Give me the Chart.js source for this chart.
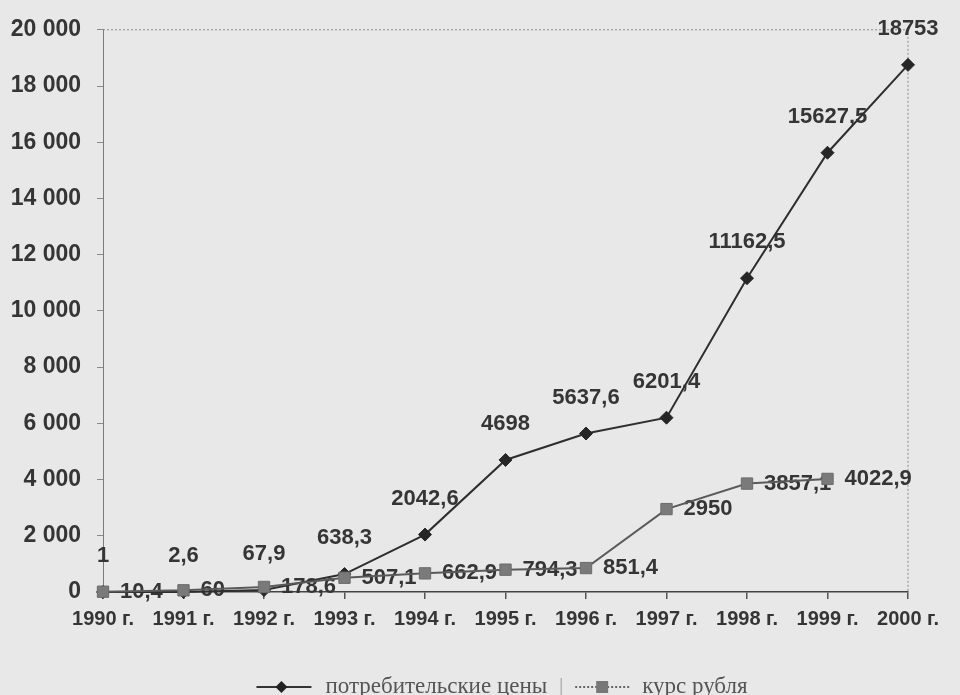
<!DOCTYPE html>
<html>
<head>
<meta charset="utf-8">
<script src="https://cdn.jsdelivr.net/npm/chart.js@4"></script>
<style>
  body { margin: 0; background: #e8e8e8; }
  canvas { display: block; }
</style>
</head>
<body>
<canvas id="myChart" width="960" height="695"></canvas>
<script>
const years = ["1990 г.", "1991 г.", "1992 г.", "1993 г.", "1994 г.", "1995 г.",
  "1996 г.", "1997 г.", "1998 г.", "1999 г.", "2000 г."];
const prices = [1, 2.6, 67.9, 638.3, 2042.6, 4698, 5637.6, 6201.4, 11162.5, 15627.5, 18753];
const ruble = [10.4, 60, 178.6, 507.1, 662.9, 794.3, 851.4, 2950, 3857.1, 4022.9, null];
const seriesNames = ["потребительские цены", "курс рубля"];
const yMax = 20000;
const yStep = 2000;

const textColor = "#353535";
const fmt = (v) => String(v).replace(".", ",");
const thousands = (v) => String(v).replace(/\B(?=(\d{3})+(?!\d))/g, " ");

// labels drawn under the lines, the way the scan shows them crossed out
const valueLabels = {
  id: "valueLabels",
  beforeDatasetsDraw(chart) {
    const ctx = chart.ctx;
    const area = chart.chartArea;
    ctx.save();
    // dotted frame on top and right
    ctx.strokeStyle = "#8a8a8a";
    ctx.lineWidth = 1;
    ctx.setLineDash([2, 2]);
    ctx.beginPath();
    ctx.moveTo(area.left, area.top);
    ctx.lineTo(area.right, area.top);
    ctx.lineTo(area.right, area.bottom);
    ctx.stroke();
    ctx.setLineDash([]);

    ctx.font = "bold 22px 'Liberation Sans', Arial, sans-serif";
    ctx.fillStyle = textColor;
    ctx.textBaseline = "middle";
    chart.getDatasetMeta(0).data.forEach((pt, i) => {
      ctx.textAlign = "center";
      ctx.fillText(fmt(prices[i]), pt.x, pt.y - 36);
    });
    chart.getDatasetMeta(1).data.forEach((pt, i) => {
      if (ruble[i] == null) return;
      ctx.textAlign = "left";
      ctx.fillText(fmt(ruble[i]), pt.x + 17, pt.y);
    });
    ctx.restore();
  },
  afterDraw(chart) {
    // legend: line with marker, like the printed one
    const ctx = chart.ctx;
    ctx.save();
    ctx.font = "23px 'Liberation Serif', 'Times New Roman', serif";
    ctx.textBaseline = "middle";
    ctx.fillStyle = "#555";
    const y = 687;
    const w1 = ctx.measureText(seriesNames[0]).width;
    const w2 = ctx.measureText(seriesNames[1]).width;
    const total = 55 + 14 + w1 + 28 + 55 + 12 + w2;
    let x = 502 - total / 2;

    ctx.strokeStyle = "#333";
    ctx.lineWidth = 2;
    ctx.beginPath();
    ctx.moveTo(x, y);
    ctx.lineTo(x + 55, y);
    ctx.stroke();
    ctx.fillStyle = "#222";
    ctx.beginPath();
    ctx.moveTo(x + 25, y - 6);
    ctx.lineTo(x + 31, y);
    ctx.lineTo(x + 25, y + 6);
    ctx.lineTo(x + 19, y);
    ctx.closePath();
    ctx.fill();
    x += 55 + 14;
    ctx.fillStyle = "#555";
    ctx.textAlign = "left";
    ctx.fillText(seriesNames[0], x, y);
    x += w1 + 14;

    ctx.strokeStyle = "#999";
    ctx.lineWidth = 1;
    ctx.beginPath();
    ctx.moveTo(x, y - 9);
    ctx.lineTo(x, y + 9);
    ctx.stroke();
    x += 14;

    ctx.strokeStyle = "#666";
    ctx.lineWidth = 2;
    ctx.setLineDash([2, 2]);
    ctx.beginPath();
    ctx.moveTo(x, y);
    ctx.lineTo(x + 55, y);
    ctx.stroke();
    ctx.setLineDash([]);
    ctx.fillStyle = "#777";
    ctx.fillRect(x + 21, y - 6, 12, 12);
    x += 55 + 12;
    ctx.fillStyle = "#555";
    ctx.fillText(seriesNames[1], x, y);
    ctx.restore();
  },
};

new Chart(document.getElementById("myChart"), {
  type: "line",
  data: {
    labels: years,
    datasets: [
      {
        label: seriesNames[0],
        data: prices,
        order: 1,
        borderColor: "#2e2e2e",
        borderWidth: 2,
        pointStyle: "rectRot",
        pointRadius: 6.5,
        pointBackgroundColor: "#262626",
        pointBorderColor: "#262626",
        pointBorderWidth: 1,
        tension: 0,
        clip: false,
      },
      {
        label: seriesNames[1],
        data: ruble,
        order: 0,
        borderColor: "#5a5a5a",
        borderWidth: 2,
        pointStyle: "rect",
        pointRadius: 8,
        pointBackgroundColor: "#7a7a7a",
        pointBorderColor: "#6a6a6a",
        pointBorderWidth: 1,
        tension: 0,
        clip: false,
      },
    ],
  },
  options: {
    responsive: false,
    animation: false,
    devicePixelRatio: 1,
    layout: { padding: { top: 25, right: 52, bottom: 63, left: 0 } },
    plugins: {
      legend: { display: false },
      tooltip: { enabled: false },
    },
    scales: {
      x: {
        grid: { drawOnChartArea: false, tickLength: 7, color: "#555", lineWidth: 1.5 },
        border: { color: "#444", width: 1.5 },
        ticks: {
          autoSkip: false,
          maxRotation: 0,
          padding: 8,
          color: textColor,
          font: { family: "'Liberation Sans', Arial, sans-serif", size: 20, weight: "bold" },
        },
        afterFit(scale) { scale.height = 40; },
      },
      y: {
        min: 0,
        max: yMax,
        grid: { drawOnChartArea: false, tickLength: 6, color: "#8a8a8a" },
        border: { color: "#7a7a7a", dash: [2, 2], width: 1 },
        ticks: {
          stepSize: yStep,
          padding: 16,
          color: textColor,
          font: { family: "'Liberation Sans', Arial, sans-serif", size: 23, weight: "bold" },
          callback: (v) => thousands(v),
        },
        afterFit(scale) { scale.width = 103; },
      },
    },
  },
  plugins: [valueLabels],
});
</script>
</body>
</html>
